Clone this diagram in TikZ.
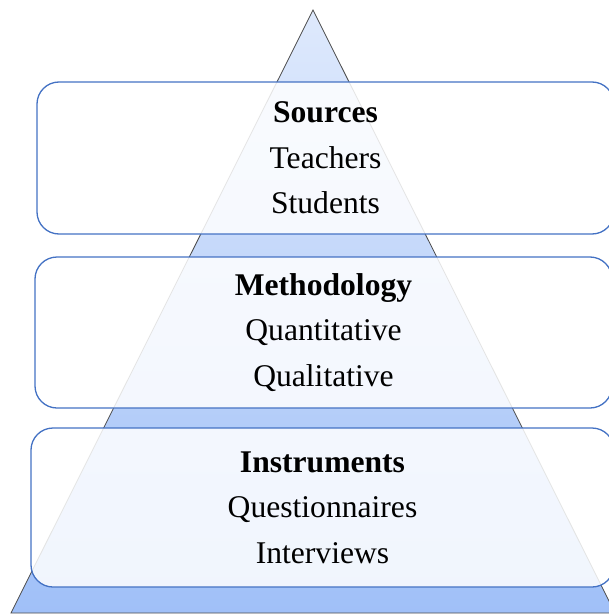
\documentclass[tikz,border=0pt]{standalone}
\usepackage{fontspec}
\setmainfont{Liberation Serif}
\usepackage{tikz}

\definecolor{boxblue}{RGB}{68,114,196}
\definecolor{pyrtop}{RGB}{222,233,252}
\definecolor{pyrbottom}{RGB}{160,192,248}

\begin{document}
\begin{tikzpicture}[x=1pt, y=-1pt,
    layer/.style={draw=boxblue, line width=1.3pt, rounded corners=22pt,
        fill=white, fill opacity=0.85, text opacity=1, align=center,
        minimum width=577pt, inner sep=0pt,
        font=\fontsize{31.6}{45.5}\selectfont}]
    \useasboundingbox (0,0) rectangle (608,615);
    % pyramid behind the layers
    \shade[top color=pyrtop, bottom color=pyrbottom, draw=gray!60!black, line width=0.8pt]
        (313,10) -- (615,613) -- (11,613) -- cycle;
    \node[layer, minimum height=152pt] (sources) at (325.5,158) {\textbf{Sources}\\Teachers\\Students};
    \node[layer, minimum height=151pt] (method) at (323.5,332.5) {\textbf{Methodology}\\Quantitative\\Qualitative};
    \node[layer, minimum height=159pt, minimum width=583pt] (instr) at (322.5,507.5) {\textbf{Instruments}\\Questionnaires\\Interviews};
\end{tikzpicture}
\end{document}
